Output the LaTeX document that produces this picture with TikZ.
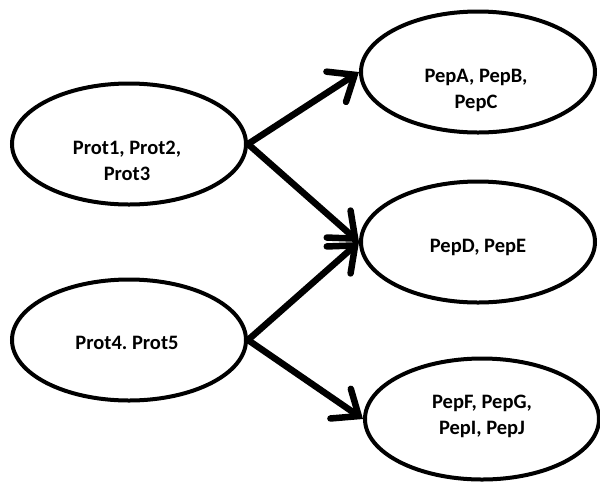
\documentclass[tikz,border=0pt]{standalone}
\usepackage{fontspec}
\setmainfont{Carlito}
\usetikzlibrary{arrows.meta, shapes.geometric, positioning}
\frenchspacing

\tikzset{
  blob/.style={draw, ellipse, line width=4pt, minimum width=234pt, minimum height=121pt},
  txt/.style={align=center, font=\fontsize{20.5}{26}\selectfont\bfseries},
  link/.style={line width=6.5pt, line join=round, -{Straight Barb[length=22pt,width=36pt,line cap=round]}}
}

\begin{document}
\begin{tikzpicture}[x=1pt,y=-1pt]

        \useasboundingbox (0,0) rectangle (600,483);

        % Ellipsen links
        \node[blob] (prot1) at (129,144) {};
        \node[blob] (prot4) at (129,340) {};

        % Ellipsen rechts
        \node[blob] (pepA) at (478,72) {};
        \node[blob] (pepD) at (478,242) {};
        \node[blob] (pepF) at (482,419) {};

        % Texte
        \node[txt] (t1) at (127,161) {Prot1, Prot2,\\Prot3};
        \node[txt] (t4) at (127,343) {Prot4. Prot5};
        \node[txt] (tA) at (476,90) {PepA, PepB,\\PepC};
        \node[txt] (tD) at (478,247) {PepD, PepE};
        \node[txt] (tF) at (482,416) {PepF, PepG,\\PepI, PepJ};

        % Pfeile
        \draw[link] (prot1.east) -- (pepA.west);
        \draw[link] (prot1.east) -- (pepD.west);
        \draw[link] (prot4.east) -- (pepD.west);
        \draw[link] (prot4.east) -- (pepF.west);

\end{tikzpicture}
\end{document}
